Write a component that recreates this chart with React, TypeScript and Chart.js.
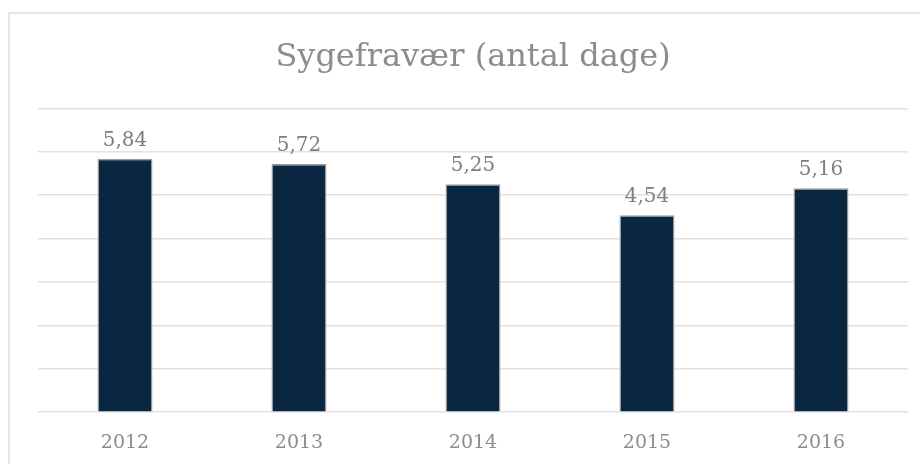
import React, { useEffect, useRef } from "react";
import { Chart, registerables } from "chart.js";

Chart.register(...registerables);

const categories = ["2012", "2013", "2014", "2015", "2016"];
const values = [5.84, 5.72, 5.25, 4.54, 5.16];
const titleText = "Sygefravær (antal dage)";

const FONT = "'DejaVu Serif', serif";

const dataLabels = {
  id: "dataLabels",
  afterDatasetsDraw(chart: any) {
    const ctx = chart.ctx;
    const meta = chart.getDatasetMeta(0);
    ctx.save();
    ctx.font = `20px ${FONT}`;
    ctx.fillStyle = "#7f7f7f";
    ctx.textAlign = "center";
    ctx.textBaseline = "alphabetic";
    meta.data.forEach((el: any, i: number) => {
      const v = chart.data.datasets[0].data[i] as number;
      ctx.fillText(v.toFixed(2).replace(".", ","), el.x, el.y - 13);
    });
    ctx.restore();
  },
};

export default function App() {
  const ref = useRef<HTMLCanvasElement>(null);
  useEffect(() => {
    document.body.style.overflow = "hidden";
    const chart = new Chart(ref.current!, {
      type: "bar",
      data: {
        labels: categories,
        datasets: [
          {
            data: values,
            backgroundColor: "#0a2742",
            borderColor: "#9a9a9a",
            borderWidth: 1.5,
            categoryPercentage: 1,
            barPercentage: 0.316,
          },
        ],
      },
      options: {
        animation: false,
        responsive: false,
        layout: { padding: { left: 38, right: 12, top: 0, bottom: 17 } },
        plugins: {
          legend: { display: false },
          tooltip: { enabled: false },
          title: {
            display: true,
            text: titleText,
            color: "#8c8c8c",
            font: { family: FONT, size: 32, weight: "normal", lineHeight: 1.2 },
            padding: { top: 38, bottom: 32 },
          },
        },
        scales: {
          x: {
            grid: { display: false, drawTicks: false },
            border: { display: false },
            ticks: {
              color: "#8c8c8c",
              font: { family: FONT, size: 19 },
              padding: 19,
            },
          },
          y: {
            min: 0,
            max: 7,
            ticks: { display: false, stepSize: 1 },
            grid: { color: "#e2e2e2", lineWidth: 1.5, drawTicks: false },
            border: { display: false },
          },
        },
      },
      plugins: [dataLabels],
    });
    return () => chart.destroy();
  }, []);
  return (
    <div>
      <div
        style={{
          position: "fixed",
          left: 8,
          top: 12,
          width: 960,
          height: 500,
          border: "2px solid #e6e6e6",
          boxSizing: "border-box",
        }}
      />
      <canvas
        ref={ref}
        width={920}
        height={490}
        style={{ position: "fixed", left: 0, top: 0, width: 920, height: 490 }}
      />
    </div>
  );
}
